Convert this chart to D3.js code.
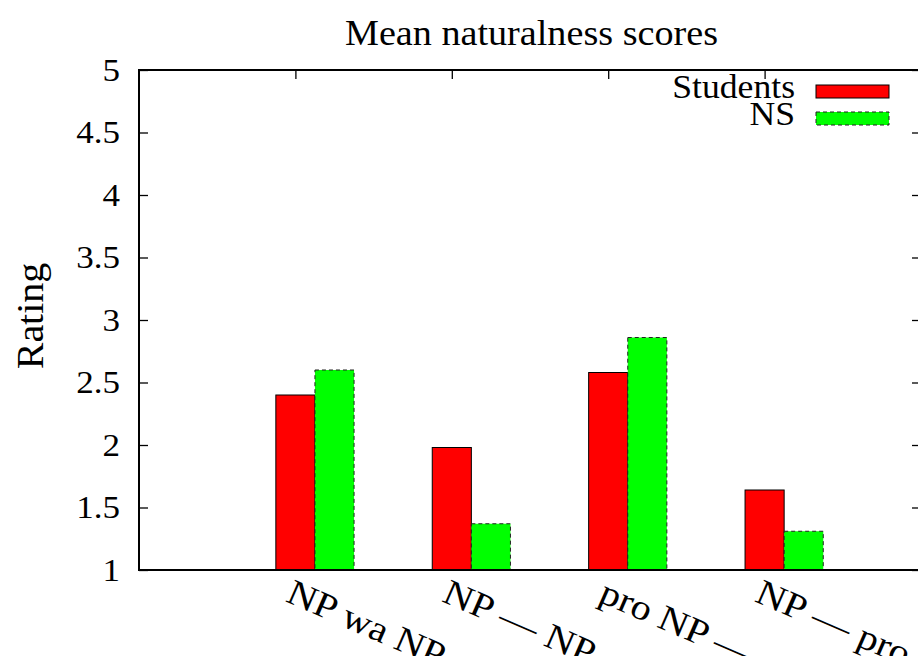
<!DOCTYPE html>
<meta charset="utf-8">
<head>
  <meta charset="utf-8">
  <title>Mean naturalness scores</title>
</head>
<style>
body { margin: 0; background: #fff; }
text { font-family: 'Liberation Serif', 'DejaVu Serif', serif; fill: #000; }
</style>
<body>
<div class='chart'></div>

<script src="https://d3js.org/d3.v7.min.js"></script>
<script>

// data
var categories = ["NP wa NP \u2014", "NP \u2014 NP o", "pro NP \u2014", "NP \u2014 pro"]
var students = [2.40, 1.98, 2.58, 1.64]
var ns = [2.60, 1.37, 2.86, 1.31]
var yTicks = [1, 1.5, 2, 2.5, 3, 3.5, 4, 4.5, 5]
var seriesNames = ["Students", "NS"]

var width = 918
var height = 656
// plot box (note: "top" is taken by window.top, so use other names)
var pLeft = 139, pRight = 921, pTop = 70, pBottom = 570
var stretch = 1.13   // the glyphs in the picture are a bit wide

var svg = d3.select('.chart')
    .append('svg')
    .attr('width', width)
    .attr('height', height)

// x is the histogram position: group i has its tick at i, range [-1, 4]
var x = d3.scaleLinear().domain([-1, 4]).range([pLeft, pRight])
var y = d3.scaleLinear().domain([1, 5]).range([pBottom, pTop])
var bw = 0.25

// bars
var groups = svg.selectAll('.grp')
    .data(categories)
    .enter().append('g')
    .attr('class', 'grp')

groups.append('rect')
    .attr('x', function (d, i) { return x(i - 0.125) })
    .attr('width', x(bw) - x(0))
    .attr('y', function (d, i) { return y(students[i]) })
    .attr('height', function (d, i) { return y(1) - y(students[i]) })
    .attr('fill', '#ff0000')
    .attr('stroke', '#000')
    .attr('stroke-width', 1)

groups.append('rect')
    .attr('x', function (d, i) { return x(i + 0.125) })
    .attr('width', x(bw) - x(0))
    .attr('y', function (d, i) { return y(ns[i]) })
    .attr('height', function (d, i) { return y(1) - y(ns[i]) })
    .attr('fill', '#00ff00')
    .attr('stroke', '#222')
    .attr('stroke-width', 1)
    .attr('stroke-dasharray', '4,3')

// y axis left, ticks pointing inward
var yAxis = svg.append('g')
    .attr('transform', 'translate(' + pLeft + ',0)')
    .call(d3.axisLeft(y).tickValues(yTicks).tickSize(-9).tickFormat(d3.format('~g')))
yAxis.select('.domain').remove()
yAxis.selectAll('line').attr('stroke', '#000').attr('stroke-width', 1.3)
yAxis.selectAll('text')
    .attr('x', null).attr('dy', null)
    .attr('font-size', 31)
    .attr('font-family', 'Liberation Serif')
    .attr('text-anchor', 'end')
    .attr('dominant-baseline', 'central')
    .attr('transform', 'translate(-19,0) scale(' + stretch + ',1)')

// mirror ticks on the right
var yAxisR = svg.append('g')
    .attr('transform', 'translate(' + pRight + ',0)')
    .call(d3.axisRight(y).tickValues(yTicks).tickSize(-9).tickFormat(''))
yAxisR.select('.domain').remove()
yAxisR.selectAll('line').attr('stroke', '#000').attr('stroke-width', 1.3)

// x ticks, top mirror only (bottom ones sit under the bars)
var xAxisT = svg.append('g')
    .attr('transform', 'translate(0,' + pTop + ')')
    .call(d3.axisTop(x).tickValues(d3.range(categories.length)).tickSize(-9).tickFormat(''))
xAxisT.select('.domain').remove()
xAxisT.selectAll('line').attr('stroke', '#000').attr('stroke-width', 1.3)

// border
svg.append('rect')
    .attr('x', pLeft).attr('y', pTop)
    .attr('width', pRight - pLeft).attr('height', pBottom - pTop)
    .attr('fill', 'none')
    .attr('stroke', '#000')
    .attr('stroke-width', 2)

// rotated category labels (the picture is stretched sideways, so the slant looks ~23deg)
svg.selectAll('.xlab')
    .data(categories)
    .enter().append('text')
    .attr('class', 'xlab')
    .attr('font-size', 36)
    .attr('transform', function (d, i) {
      return 'translate(' + (x(i) - 11) + ',601) rotate(23.5) scale(1.12,1)'
    })
    .text(function (d) { return d })

// title and axis label
svg.append('text')
    .attr('x', 345).attr('y', 45)
    .attr('font-size', 36)
    .attr('textLength', 373)
    .attr('lengthAdjust', 'spacingAndGlyphs')
    .text('Mean naturalness scores')

svg.append('text')
    .attr('font-size', 37)
    .attr('text-anchor', 'middle')
    .attr('transform', 'translate(43,316) rotate(-90) scale(1.08,1)')
    .text('Rating')

// legend
var legend = svg.append('g')
var legColors = ['#ff0000', '#00ff00']
legend.selectAll('text')
    .data(seriesNames)
    .enter().append('text')
    .attr('font-size', 33)
    .attr('text-anchor', 'end')
    .attr('transform', function (d, i) {
      return 'translate(795,' + (98 + i * 27) + ') scale(1.08,1)'
    })
    .text(function (d) { return d })

legend.selectAll('rect')
    .data(seriesNames)
    .enter().append('rect')
    .attr('x', 816)
    .attr('y', function (d, i) { return 85 + i * 27 })
    .attr('width', 73)
    .attr('height', 13)
    .attr('fill', function (d, i) { return legColors[i] })
    .attr('stroke', function (d, i) { return i ? '#222' : '#000' })
    .attr('stroke-width', 1)
    .attr('stroke-dasharray', function (d, i) { return i ? '4,3' : null })

</script>
</body>
